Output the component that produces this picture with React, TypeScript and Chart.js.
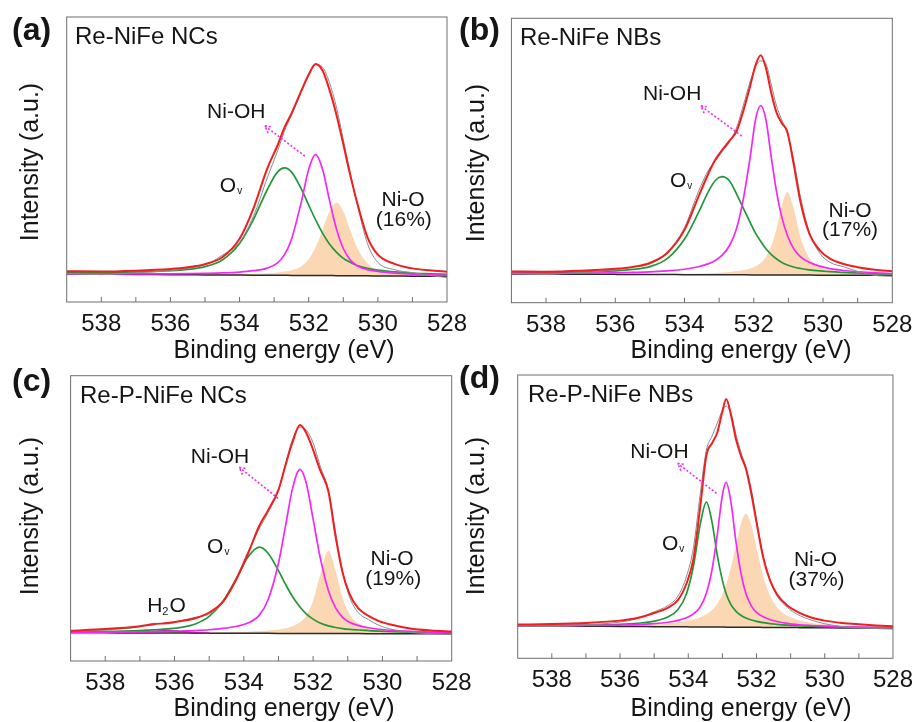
import { useEffect, useRef } from "react";
import { Chart, registerables } from "chart.js";

Chart.register(...registerables);

const FONT = '"Liberation Sans", Arial, Helvetica, sans-serif';
const PAGE_W = 921;
const PAGE_H = 722;
const X_AXIS_H = 40;

const RED = "#F01E1E";
const GREEN = "#23973A";
const MAGENTA = "#F428F4";
const PEACH = "#FBD7B4";
const RAW_GRAY = "#8c8c8c";
const WATER = "#9B2A78";
const BASE = "#2a2a2a";
const FRAME = "#6e6e6e";
const INK = "#151515";

// Binding-energy axis (eV, drawn high -> low)
const energyMin = 528;
const energyMax = 539;
const energyTicks = [538, 536, 534, 532, 530, 528];

// ---- (a) Re-NiFe NCs ----
const energyA = [539, 538, 537, 536, 535.5, 535, 534.5, 534, 533.6, 533.2, 532.9, 532.7, 532.5, 532.2, 532.0, 531.8, 531.6, 531.4, 531.2, 531.0, 530.8, 530.6, 530.3, 530.0, 529.5, 529, 528.5, 528];
const rawA = [10.0, 9.6, 10.3, 11.0, 11.8, 13.0, 16.4, 21.0, 30.0, 43.5, 53.0, 60.0, 65.5, 74.0, 79.5, 83.3, 82.4, 77.0, 68.5, 57.0, 45.5, 34.5, 20.5, 13.9, 11.3, 10.3, 9.3, 8.6];
const envelopeA = [10.8, 10.7, 11.0, 11.6, 12.2, 13.3, 15.7, 22.2, 32.8, 46.8, 55.0, 61.3, 66.1, 74.5, 79.8, 83.5, 81.2, 74.5, 65.8, 55.4, 44.6, 34.9, 22.7, 16.6, 13.3, 11.8, 11.1, 10.6];
const ovA = [10.2, 10.28, 10.49, 10.97, 11.44, 12.41, 14.76, 20.54, 28.91, 39.39, 45.66, 47.05, 45.64, 39.31, 34.0, 28.78, 24.17, 20.36, 17.51, 15.33, 13.92, 12.8, 11.82, 11.19, 10.58, 10.16, 9.91, 9.7];
const niohA = [9.9, 9.87, 9.86, 9.88, 9.93, 10.04, 10.2, 10.5, 10.98, 11.89, 13.73, 16.6, 21.94, 35.81, 46.6, 51.68, 46.57, 35.76, 25.75, 18.77, 14.77, 12.72, 11.34, 10.72, 10.13, 9.75, 9.53, 9.36];
const nioA = [9.85, 9.8, 9.75, 9.72, 9.72, 9.73, 9.77, 9.85, 9.95, 10.13, 10.38, 10.66, 11.11, 12.66, 15.06, 19.24, 25.27, 31.76, 34.85, 31.73, 25.22, 19.16, 13.56, 11.27, 10.13, 9.71, 9.48, 9.32];
const backgroundA = [9.8, 9.73, 9.66, 9.58, 9.55, 9.51, 9.48, 9.44, 9.41, 9.39, 9.36, 9.35, 9.34, 9.31, 9.3, 9.28, 9.27, 9.26, 9.25, 9.23, 9.22, 9.2, 9.18, 9.15, 9.11, 9.07, 9.04, 9.0];

// ---- (b) Re-NiFe NBs ----
const energyB = [539, 538, 537, 536, 535.5, 535, 534.5, 534, 533.6, 533.3, 533.1, 532.92, 532.7, 532.5, 532.3, 532.1, 531.95, 531.8, 531.65, 531.5, 531.35, 531.2, 531.03, 530.85, 530.65, 530.4, 530.1, 529.8, 529.4, 529, 528.5, 528];
const rawB = [10.3, 10.0, 10.6, 11.5, 12.4, 13.6, 17.8, 26.5, 39.0, 46.8, 50.0, 53.0, 56.5, 61.5, 69.5, 78.0, 83.0, 85.0, 84.0, 77.0, 69.5, 64.5, 59.5, 50.5, 37.0, 25.0, 17.5, 14.2, 12.6, 11.0, 9.6, 9.3];
const envelopeB = [11.0, 10.9, 11.2, 11.9, 12.6, 14.0, 17.5, 25.6, 37.2, 45.7, 50.5, 53.6, 57.0, 60.2, 67.5, 76.4, 83.5, 87.0, 82.5, 74.0, 67.1, 63.3, 60.0, 48.8, 35.3, 24.4, 18.5, 15.5, 13.6, 12.5, 11.6, 11.1];
const ovB = [10.44, 10.53, 10.72, 11.2, 11.69, 12.7, 15.48, 22.37, 31.65, 39.34, 43.13, 44.32, 42.81, 38.3, 33.19, 28.08, 24.48, 21.57, 18.96, 17.01, 15.45, 14.26, 13.28, 12.55, 12.03, 11.54, 11.17, 10.92, 10.63, 10.44, 10.24, 10.11];
const niohB = [10.28, 10.3, 10.35, 10.5, 10.64, 10.83, 11.2, 11.77, 12.65, 13.74, 14.93, 16.62, 20.11, 26.0, 36.59, 51.58, 64.38, 69.27, 64.36, 51.56, 39.5, 30.54, 23.73, 19.02, 16.12, 14.21, 12.84, 11.98, 11.32, 10.89, 10.5, 10.26];
const nioB = [10.15, 10.11, 10.08, 10.07, 10.07, 10.09, 10.14, 10.21, 10.29, 10.39, 10.5, 10.64, 10.83, 11.11, 11.43, 12.06, 12.78, 13.97, 16.06, 19.86, 25.65, 33.64, 38.93, 33.12, 23.02, 15.81, 12.64, 11.43, 10.71, 10.35, 10.09, 9.92];
const backgroundB = [10.1, 10.05, 10.0, 9.96, 9.93, 9.91, 9.89, 9.87, 9.85, 9.84, 9.83, 9.82, 9.81, 9.8, 9.79, 9.78, 9.78, 9.77, 9.76, 9.76, 9.75, 9.74, 9.73, 9.72, 9.72, 9.71, 9.69, 9.68, 9.66, 9.65, 9.62, 9.6];

// ---- (c) Re-P-NiFe NCs ----
const energyC = [539, 538, 537, 536.6, 536.2, 535.8, 535.4, 535, 534.6, 534.2, 533.9, 533.55, 533.3, 533.0, 532.8, 532.6, 532.38, 532.2, 532.0, 531.8, 531.56, 531.35, 531.15, 530.95, 530.7, 530.4, 530.1, 529.7, 529.2, 528.6, 528];
const rawC = [10.4, 10.9, 12.0, 13.2, 13.0, 14.2, 15.3, 16.5, 20.5, 29.5, 37.8, 46.5, 52.0, 60.0, 69.0, 77.5, 82.0, 81.0, 76.5, 68.5, 60.0, 45.0, 31.5, 22.5, 17.0, 14.5, 12.5, 11.0, 10.0, 9.6, 9.3];
const envelopeC = [10.6, 11.2, 12.2, 12.9, 13.3, 14.0, 15.0, 17.0, 20.8, 29.0, 37.0, 47.5, 52.8, 60.0, 68.5, 76.5, 82.7, 80.0, 74.0, 67.0, 59.5, 43.5, 31.0, 23.5, 18.5, 15.8, 14.0, 12.6, 11.4, 10.7, 10.3];
const ovC = [10.28, 10.39, 10.68, 10.9, 11.25, 11.8, 12.97, 15.61, 20.94, 29.32, 36.11, 39.9, 37.79, 31.68, 26.97, 22.67, 18.93, 16.54, 14.68, 13.32, 12.32, 11.73, 11.36, 11.09, 10.87, 10.65, 10.44, 10.25, 10.08, 9.94, 9.86];
const niohC = [10.1, 10.14, 10.23, 10.29, 10.38, 10.52, 10.69, 10.96, 11.41, 12.19, 13.22, 16.08, 21.49, 34.28, 47.07, 60.17, 67.16, 62.45, 49.74, 36.54, 24.73, 18.59, 15.3, 13.58, 12.48, 11.66, 11.13, 10.71, 10.37, 10.12, 9.95];
const nioC = [9.96, 9.93, 9.93, 9.93, 9.95, 9.95, 9.97, 9.99, 10.08, 10.16, 10.26, 10.48, 10.68, 11.04, 11.47, 12.17, 13.56, 15.85, 21.14, 29.94, 38.63, 31.52, 22.11, 16.41, 13.2, 11.69, 10.91, 10.4, 10.09, 9.88, 9.73];
const backgroundC = [9.9, 9.86, 9.82, 9.81, 9.8, 9.78, 9.77, 9.75, 9.74, 9.72, 9.71, 9.7, 9.69, 9.68, 9.67, 9.67, 9.66, 9.65, 9.64, 9.64, 9.63, 9.62, 9.61, 9.61, 9.6, 9.59, 9.58, 9.56, 9.54, 9.52, 9.5];
const waterEnergyC = [537.4, 537, 536.6, 536.2, 535.8, 535.4, 535];
const waterC = [9.9, 9.98, 10.32, 10.7, 10.29, 9.93, 9.8];

// ---- (d) Re-P-NiFe NBs ----
const energyD = [539, 538, 537, 536, 535.5, 535, 534.6, 534.3, 534.05, 533.85, 533.65, 533.47, 533.3, 533.15, 533.0, 532.89, 532.75, 532.6, 532.45, 532.31, 532.15, 532.0, 531.8, 531.6, 531.4, 531.1, 530.8, 530.4, 530, 529.5, 529, 528.5, 528];
const rawD = [11.6, 11.3, 11.8, 12.8, 14.0, 16.4, 18.6, 22.0, 29.0, 39.0, 58.0, 73.5, 78.5, 83.0, 87.5, 89.0, 86.5, 79.0, 72.5, 67.5, 59.5, 49.0, 36.0, 27.5, 22.0, 18.0, 15.5, 13.5, 12.2, 11.2, 10.8, 10.5, 10.3];
const envelopeD = [11.9, 12.1, 12.5, 13.3, 14.2, 16.0, 17.8, 20.6, 26.5, 35.0, 53.5, 71.6, 76.0, 79.7, 87.1, 91.5, 86.0, 77.2, 71.3, 66.9, 58.0, 48.0, 35.4, 27.4, 22.6, 18.6, 16.4, 14.4, 13.3, 12.5, 12.0, 11.6, 11.3];
const ovD = [11.65, 11.65, 11.72, 12.01, 12.37, 13.11, 14.58, 17.25, 22.9, 32.48, 47.26, 55.15, 47.83, 36.32, 27.51, 22.8, 18.97, 16.58, 15.11, 14.21, 13.5, 13.05, 12.59, 12.22, 11.98, 11.69, 11.49, 11.32, 11.15, 11.04, 10.92, 10.84, 10.76];
const niohD = [11.63, 11.6, 11.62, 11.74, 11.88, 12.24, 12.72, 13.37, 14.32, 15.68, 18.16, 22.95, 31.53, 43.62, 57.61, 62.1, 55.19, 40.88, 29.66, 22.85, 18.44, 16.23, 14.64, 13.61, 12.98, 12.33, 11.9, 11.57, 11.34, 11.13, 10.99, 10.89, 10.79];
const nioD = [11.65, 11.63, 11.65, 11.75, 11.86, 12.09, 12.38, 12.8, 13.23, 13.73, 14.47, 15.54, 17.09, 19.2, 22.61, 26.2, 32.09, 40.08, 47.86, 51.05, 47.04, 39.03, 28.91, 22.0, 17.98, 14.98, 13.6, 12.56, 12.0, 11.56, 11.32, 11.12, 10.96];
const backgroundD = [11.5, 11.42, 11.34, 11.26, 11.22, 11.17, 11.14, 11.12, 11.1, 11.08, 11.06, 11.05, 11.03, 11.02, 11.01, 11.0, 10.99, 10.98, 10.96, 10.95, 10.94, 10.93, 10.91, 10.9, 10.88, 10.85, 10.83, 10.8, 10.76, 10.72, 10.68, 10.64, 10.6];

type Pt = [number, number];

interface PanelSpec {
  tag: string;
  name: string;
  share: string;
  area: { left: number; top: number; right: number; bottom: number };
  tagAt: Pt;
  nameAt: Pt;
  yTitleAt: Pt;
  xTitleAt: Pt;
  energy: number[];
  raw: number[];
  envelope: number[];
  ov: number[];
  nioh: number[];
  nio: number[];
  background: number[];
  water?: { energy: number[]; values: number[] };
  // annotation anchors in data units (eV, intensity)
  niohLabel: Pt;
  ovLabel: Pt;
  nioLabel: Pt;
  shareLabel: Pt;
  waterLabel?: Pt;
  arrowFrom: Pt;
  arrowTo: Pt;
}

const panels: PanelSpec[] = [
  {
    tag: "(a)", name: "Re-NiFe NCs", share: "(16%)",
    area: { left: 66.7, top: 17, right: 447, bottom: 302 },
    tagAt: [12, 40], nameAt: [75, 44], yTitleAt: [38, 162], xTitleAt: [284, 358],
    energy: energyA, raw: rawA, envelope: envelopeA, ov: ovA, nioh: niohA, nio: nioA, background: backgroundA,
    niohLabel: [534.94, 64.6], ovLabel: [534.57, 38.6], nioLabel: [529.27, 33.7], shareLabel: [529.25, 26.7],
    arrowFrom: [532.11, 51.2], arrowTo: [533.27, 61.8],
  },
  {
    tag: "(b)", name: "Re-NiFe NBs", share: "(17%)",
    area: { left: 511.4, top: 18.3, right: 892.3, bottom: 302.7 },
    tagAt: [459, 40], nameAt: [520, 45], yTitleAt: [484, 163], xTitleAt: [741, 358],
    energy: energyB, raw: rawB, envelope: envelopeB, ov: ovB, nioh: niohB, nio: nioB, background: backgroundB,
    niohLabel: [535.2, 71.3], ovLabel: [534.42, 40.7], nioLabel: [529.22, 30.1], shareLabel: [529.22, 23.5],
    arrowFrom: [532.35, 58.6], arrowTo: [533.53, 69.2],
  },
  {
    tag: "(c)", name: "Re-P-NiFe NCs", share: "(19%)",
    area: { left: 70.6, top: 375.7, right: 451.7, bottom: 661 },
    tagAt: [12, 391], nameAt: [80, 403], yTitleAt: [38, 516], xTitleAt: [284, 716],
    energy: energyC, raw: rawC, envelope: envelopeC, ov: ovC, nioh: niohC, nio: nioC, background: backgroundC,
    water: { energy: waterEnergyC, values: waterC },
    niohLabel: [535.53, 69.4], ovLabel: [535.06, 37.9], nioLabel: [529.72, 33.6], shareLabel: [529.69, 26.6],
    waterLabel: [536.79, 17.2],
    arrowFrom: [533.01, 57.0], arrowTo: [534.13, 67.9],
  },
  {
    tag: "(d)", name: "Re-P-NiFe NBs", share: "(37%)",
    area: { left: 517.7, top: 375, right: 898.3, bottom: 658.3 },
    tagAt: [459, 388], nameAt: [528, 402], yTitleAt: [484, 516], xTitleAt: [741, 716],
    energy: energyD, raw: rawD, envelope: envelopeD, ov: ovD, nioh: niohD, nio: nioD, background: backgroundD,
    niohLabel: [535.7, 70.7], ovLabel: [534.77, 38.2], nioLabel: [530.27, 32.6], shareLabel: [530.24, 25.5],
    arrowFrom: [533.17, 58.2], arrowTo: [534.31, 68.8],
  },
];

function decorPlugin(p: PanelSpec) {
  return {
    id: "xpsDecor",
    afterDraw(chart: any) {
      const { ctx, chartArea: a, scales } = chart;
      const X = (v: number) => scales.x.getPixelForValue(v);
      const Y = (v: number) => scales.y.getPixelForValue(v);
      ctx.save();

      // plot frame
      ctx.strokeStyle = FRAME;
      ctx.lineWidth = 1;
      ctx.strokeRect(a.left, a.top, a.right - a.left, a.bottom - a.top);

      // inward tick marks at every 1 eV
      ctx.beginPath();
      for (let v = energyMin + 1; v < energyMax; v++) {
        const x = X(v);
        ctx.moveTo(x, a.bottom);
        ctx.lineTo(x, a.bottom - 5);
      }
      ctx.stroke();

      ctx.fillStyle = INK;
      ctx.textBaseline = "alphabetic";

      // panel tag and sample name
      ctx.textAlign = "left";
      ctx.font = `bold 32px ${FONT}`;
      ctx.fillText(p.tag, p.tagAt[0], p.tagAt[1]);
      ctx.font = `24px ${FONT}`;
      ctx.fillText(p.name, p.nameAt[0], p.nameAt[1]);

      // axis titles
      ctx.font = `25px ${FONT}`;
      ctx.textAlign = "center";
      ctx.fillText("Binding energy (eV)", p.xTitleAt[0], p.xTitleAt[1]);
      ctx.save();
      ctx.translate(p.yTitleAt[0], p.yTitleAt[1]);
      ctx.rotate(-Math.PI / 2);
      ctx.fillText("Intensity (a.u.)", 0, 0);
      ctx.restore();

      // peak labels
      ctx.font = `21px ${FONT}`;
      ctx.textAlign = "left";
      ctx.fillText("Ni-OH", X(p.niohLabel[0]), Y(p.niohLabel[1]));

      const ox = X(p.ovLabel[0]);
      const oy = Y(p.ovLabel[1]);
      ctx.fillText("O", ox, oy);
      const ow = ctx.measureText("O").width;
      ctx.font = `10px ${FONT}`;
      ctx.fillText("v", ox + ow + 1, oy + 2);

      ctx.font = `21px ${FONT}`;
      ctx.textAlign = "center";
      ctx.fillText("Ni-O", X(p.nioLabel[0]), Y(p.nioLabel[1]));
      ctx.fillText(p.share, X(p.shareLabel[0]), Y(p.shareLabel[1]));

      if (p.waterLabel) {
        ctx.textAlign = "left";
        const hx = X(p.waterLabel[0]);
        const hy = Y(p.waterLabel[1]);
        ctx.fillText("H", hx, hy);
        const hw = ctx.measureText("H").width;
        ctx.font = `11px ${FONT}`;
        ctx.fillText("2", hx + hw, hy + 3);
        const sw = ctx.measureText("2").width;
        ctx.font = `21px ${FONT}`;
        ctx.fillText("O", hx + hw + sw + 1, hy);
      }

      // dotted arrow pointing to the Ni-OH label
      const x0 = X(p.arrowFrom[0]);
      const y0 = Y(p.arrowFrom[1]);
      const x1 = X(p.arrowTo[0]);
      const y1 = Y(p.arrowTo[1]);
      ctx.strokeStyle = MAGENTA;
      ctx.lineWidth = 1.6;
      ctx.setLineDash([2, 2]);
      ctx.beginPath();
      ctx.moveTo(x0, y0);
      ctx.lineTo(x1, y1);
      ctx.stroke();
      const ang = Math.atan2(y0 - y1, x0 - x1);
      const head = 8;
      ctx.beginPath();
      ctx.moveTo(x1 + head * Math.cos(ang + 0.5), y1 + head * Math.sin(ang + 0.5));
      ctx.lineTo(x1, y1);
      ctx.lineTo(x1 + head * Math.cos(ang - 0.5), y1 + head * Math.sin(ang - 0.5));
      ctx.stroke();
      ctx.setLineDash([]);

      ctx.restore();
    },
  };
}

function XpsPanel({ p }: { p: PanelSpec }) {
  const ref = useRef<HTMLCanvasElement | null>(null);

  useEffect(() => {
    const canvas = ref.current;
    if (!canvas) return;
    const pts = (ys: number[], xs: number[] = p.energy) => ys.map((y, i) => ({ x: xs[i], y }));
    const line = { pointRadius: 0, cubicInterpolationMode: "monotone", fill: false };

    const datasets: any[] = [
      { ...line, label: "Fit", data: pts(p.envelope), borderColor: RED, borderWidth: 2 },
      { ...line, label: "Raw", data: pts(p.raw), borderColor: RAW_GRAY, borderWidth: 1 },
      { ...line, label: "Ni-OH", data: pts(p.nioh), borderColor: MAGENTA, borderWidth: 1.7 },
      { ...line, label: "Ov", data: pts(p.ov), borderColor: GREEN, borderWidth: 1.7 },
    ];
    if (p.water) {
      datasets.push({ ...line, label: "H2O", data: pts(p.water.values, p.water.energy), borderColor: WATER, borderWidth: 1.6 });
    }
    datasets.push({ ...line, label: "Background", data: pts(p.background), borderColor: BASE, borderWidth: 1.5 });
    const bgIndex = datasets.length - 1;
    datasets.push({
      ...line,
      label: "Ni-O",
      data: pts(p.nio),
      borderColor: "rgba(0,0,0,0)",
      borderWidth: 0,
      backgroundColor: PEACH,
      fill: { target: bgIndex },
    });

    const chart = new Chart(canvas, {
      type: "line",
      data: { datasets },
      options: {
        responsive: false,
        animation: false,
        devicePixelRatio: 1,
        events: [],
        layout: {
          padding: {
            left: p.area.left,
            top: p.area.top,
            right: PAGE_W - p.area.right,
            bottom: PAGE_H - p.area.bottom - X_AXIS_H,
          },
        },
        plugins: { legend: { display: false }, tooltip: { enabled: false } },
        scales: {
          x: {
            type: "linear",
            reverse: true,
            min: energyMin,
            max: energyMax,
            afterBuildTicks: (s: any) => {
              s.ticks = energyTicks.map((v) => ({ value: v }));
            },
            afterFit: (s: any) => {
              s.height = X_AXIS_H;
            },
            grid: { display: false, drawTicks: false },
            border: { display: false },
            ticks: {
              font: { family: FONT, size: 24 },
              color: INK,
              padding: 8,
              maxRotation: 0,
              autoSkip: false,
            },
          },
          y: { type: "linear", min: 0, max: 100, display: false },
        },
      } as any,
      plugins: [decorPlugin(p)],
    });
    return () => chart.destroy();
  }, [p]);

  return (
    <canvas
      ref={ref}
      width={PAGE_W}
      height={PAGE_H}
      style={{ position: "absolute", left: 0, top: 0, width: PAGE_W, height: PAGE_H }}
    />
  );
}

export default function App() {
  return (
    <div style={{ position: "absolute", left: 0, top: 0, width: PAGE_W, height: PAGE_H, background: "#fff" }}>
      {panels.map((p) => (
        <XpsPanel key={p.tag} p={p} />
      ))}
    </div>
  );
}
